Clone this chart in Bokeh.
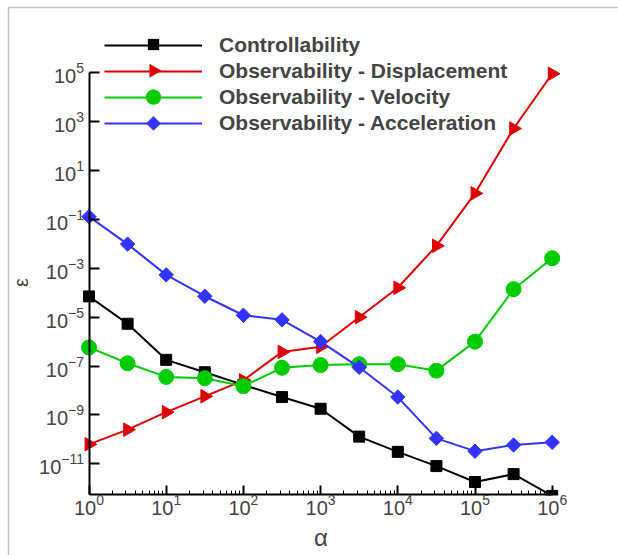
import math
from bokeh.plotting import figure
from bokeh.models import (FixedTicker, LogTickFormatter, Legend, LegendItem,
                          BoxAnnotation, PolyAnnotation, Range1d, Label)
from bokeh.embed import file_html
from bokeh.resources import INLINE

# ---- data ----
alpha = [1, 3.162, 10, 31.62, 100, 316.2, 1000, 3162, 1e4, 31623, 1e5, 316228, 1e6]
controllability = [7.1e-5, 5.4e-6, 1.8e-7, 5.6e-8, 1.7e-8, 5.4e-9, 1.8e-9, 1.3e-10,
                   3.1e-11, 8.1e-12, 1.8e-12, 3.8e-12, 4.9e-13]
obs_displacement = [6.3e-11, 2.5e-10, 1.3e-9, 5.8e-9, 2.6e-8, 3.8e-7, 6.2e-7, 1.0e-5,
                    1.6e-4, 8.3e-3, 1.17, 525, 9.1e4]
obs_velocity = [5.8e-7, 1.3e-7, 3.6e-8, 3.2e-8, 1.5e-8, 8.5e-8, 1.1e-7, 1.2e-7,
                1.2e-7, 6.5e-8, 1.0e-6, 1.4e-4, 2.6e-3]
obs_acceleration = [0.13, 9.8e-3, 5.4e-4, 7.2e-5, 1.2e-5, 7.8e-6, 1.0e-6, 8.9e-8,
                    5.4e-9, 1.1e-10, 3.3e-11, 5.9e-11, 7.6e-11]

x_major = [1, 10, 100, 1e3, 1e4, 1e5, 1e6]
y_major = [1e-11, 1e-9, 1e-7, 1e-5, 1e-3, 1e-1, 1e1, 1e3, 1e5]
labels = ["Controllability", "Observability - Displacement",
          "Observability - Velocity", "Observability - Acceleration"]
x_title, y_title = "α", "ε"

x_minor = [m * d for d in [1, 10, 100, 1e3, 1e4, 1e5] for m in range(2, 10)]

W, H = 618, 555
Y_BOTTOM = 10 ** -12.254   # lower end of the drawn y axis
AXIS_Y_PX = 494            # canvas row of the x axis (for the clip mask)

p = figure(width=W, height=H, x_axis_type="log", y_axis_type="log",
           x_range=Range1d(10 ** -1.1464, 10 ** 6.8588),
           y_range=Range1d(10 ** -14.750, 10 ** 7.958),
           output_backend="svg", toolbar_location=None,
           min_border_left=0, min_border_right=0, min_border_top=0,
           min_border_bottom=0)
p.outline_line_color = None
p.grid.visible = False
p.background_fill_color = "white"
p.border_fill_color = "white"

FONT = "Liberation Sans"

# x axis (drawn inside the frame at the bottom of the y range)
xa = p.xaxis[0]
xa.ticker = FixedTicker(ticks=x_major, minor_ticks=x_minor)
xa.formatter = LogTickFormatter()
xa.fixed_location = Y_BOTTOM
xa.bounds = (1, 1e6)
xa.axis_line_width = 2
xa.major_tick_in = 9
xa.major_tick_out = 0
xa.major_tick_line_width = 2
xa.minor_tick_in = 4
xa.minor_tick_out = 0
xa.minor_tick_line_width = 1
xa.major_label_text_font = FONT
xa.major_label_text_font_size = "20px"
xa.major_label_standoff = 0
xa.axis_label = x_title
xa.axis_label_text_font = FONT
xa.axis_label_text_font_size = "24px"
xa.axis_label_text_font_style = "normal"
xa.axis_label_standoff = 5

# y axis (drawn inside the frame at alpha = 1)
ya = p.yaxis[0]
ya.ticker = FixedTicker(ticks=y_major, minor_ticks=[])
ya.formatter = LogTickFormatter()
ya.fixed_location = 1
ya.bounds = (Y_BOTTOM, 1e5)
ya.axis_line_width = 2
ya.major_tick_in = 10
ya.major_tick_out = 0
ya.major_tick_line_width = 2
ya.minor_tick_in = 0
ya.minor_tick_out = 0
ya.major_label_text_font = FONT
ya.major_label_text_font_size = "20px"
ya.major_label_standoff = 5

# rotated y title
try:
    ytitle = Label(x=20.5, y=282, x_units="canvas", y_units="canvas", text=y_title,
                   angle=math.pi / 2, text_align="center", text_baseline="middle",
                   text_font=FONT, text_font_size="20px")
except Exception:
    ytitle = Label(x=20.5, y=H - 282, x_units="screen", y_units="screen", text=y_title,
                   angle=math.pi / 2, text_align="center", text_baseline="middle",
                   text_font=FONT, text_font_size="20px")
p.add_layout(ytitle)

RED = "#DD0000"
GREEN = "#00CC00"
BLUE = "#3333FF"
colors = ["black", RED, GREEN, BLUE]

l1 = p.line(alpha, controllability, line_color="black", line_width=2)
p.scatter(alpha, controllability, marker="square", size=11, color="black")
l2 = p.line(alpha, obs_displacement, line_color=RED, line_width=2)
p.scatter(alpha, obs_displacement, marker="triangle", size=13.5, angle=-math.pi / 2,
          color=RED)
l3 = p.line(alpha, obs_velocity, line_color=GREEN, line_width=2)
p.scatter(alpha, obs_velocity, marker="circle", size=15, color=GREEN)
l4 = p.line(alpha, obs_acceleration, line_color=BLUE, line_width=2)
p.scatter(alpha, obs_acceleration, marker="square", size=10.2, angle=math.pi / 4,
          color=BLUE)

# clip the data below the x axis, as the original plot area does
mask = BoxAnnotation(left=0, right=W, top=AXIS_Y_PX + 1, bottom=H,
                     left_units="canvas", right_units="canvas",
                     top_units="canvas", bottom_units="canvas",
                     fill_color="white", fill_alpha=1, line_color=None,
                     level="glyph")
p.add_layout(mask)

# ---- legend: lines + labels from Bokeh's Legend, key symbols as annotations ----
LEG_X, LEG_ROW0, LEG_PITCH, GLYPH_W = 104, 44, 26.3, 98
ITEM_H = 24
legend = Legend(items=[LegendItem(label=labels[0], renderers=[l1]),
                       LegendItem(label=labels[1], renderers=[l2]),
                       LegendItem(label=labels[2], renderers=[l3]),
                       LegendItem(label=labels[3], renderers=[l4])],
                location=(LEG_X, H - (LEG_ROW0 + 3 * LEG_PITCH + ITEM_H / 2)),
                margin=0, padding=0,
                glyph_width=GLYPH_W, glyph_height=20, spacing=2,
                label_standoff=17, label_height=20,
                label_text_font=FONT, label_text_font_size="21px",
                label_text_font_style="bold",
                background_fill_alpha=0, border_line_color=None)
p.add_layout(legend, "center")

cx = LEG_X + GLYPH_W / 2
rows = [LEG_ROW0 + i * LEG_PITCH for i in range(4)]


def key_symbol(xs, ys, color):
    p.add_layout(PolyAnnotation(xs=xs, ys=ys, xs_units="canvas", ys_units="canvas",
                                fill_color=color, fill_alpha=1, line_color=color,
                                line_width=1))


# square
s = 5.5
key_symbol([cx - s, cx + s, cx + s, cx - s], [rows[0] - s, rows[0] - s, rows[0] + s, rows[0] + s],
           colors[0])
# right-pointing triangle
tw, th = 11.7, 13.4
key_symbol([cx - tw / 3, cx + 2 * tw / 3, cx - tw / 3], [rows[1] - th / 2, rows[1], rows[1] + th / 2],
           colors[1])
# circle
r = 7.5
key_symbol([cx + r * math.cos(2 * math.pi * k / 40) for k in range(40)],
           [rows[2] + r * math.sin(2 * math.pi * k / 40) for k in range(40)], colors[2])
# diamond
d = 7.2
key_symbol([cx, cx + d, cx, cx - d], [rows[3] - d, rows[3], rows[3] + d, rows[3]], colors[3])

# outer frame of the figure
border = BoxAnnotation(left=8, right=W + 100, top=7, bottom=H + 100,
                       left_units="canvas", right_units="canvas",
                       top_units="canvas", bottom_units="canvas",
                       fill_alpha=0, line_color="#333333", line_width=1.5)
p.add_layout(border)

open("out.html", "w").write(file_html(p, INLINE))
